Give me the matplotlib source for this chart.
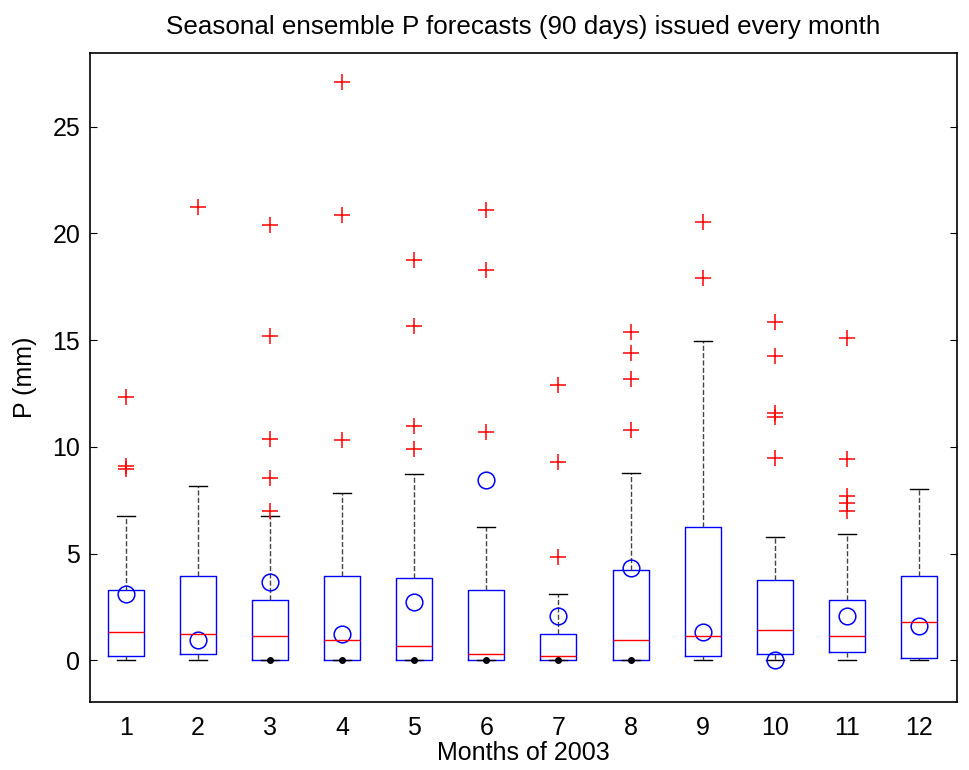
import numpy as np
import matplotlib
matplotlib.use("Agg")
import matplotlib.pyplot as plt

plt.rcParams["font.family"] = ["Liberation Sans", "DejaVu Sans"]

months = list(range(1, 13))
# box statistics (mm)
q1 = [0.19, 0.28, 0.0, 0.0, 0.0, 0.0, 0.0, 0.0, 0.19, 0.28, 0.37, 0.09]
med = [1.31, 1.22, 1.12, 0.94, 0.66, 0.28, 0.19, 0.94, 1.12, 1.40, 1.12, 1.78]
q3 = [3.28, 3.93, 2.81, 3.93, 3.84, 3.28, 1.22, 4.21, 6.27, 3.75, 2.81, 3.93]
whi = [6.74, 8.15, 6.74, 7.86, 8.71, 6.27, 3.09, 8.80, 14.98, 5.80, 5.90, 8.05]
wlo = [0.0] * 12
outliers = [
    [12.35, 9.1, 8.95],
    [21.25],
    [20.4, 15.2, 10.35, 8.52, 6.98],
    [27.1, 20.85, 10.3],
    [18.77, 15.68, 11.0, 9.88],
    [21.1, 18.3, 10.72],
    [12.9, 9.27, 4.82],
    [15.4, 14.4, 13.2, 10.8],
    [20.55, 17.93],
    [15.87, 14.28, 11.6, 11.42, 9.5],
    [15.1, 9.41, 7.72, 7.35, 6.98],
    [],
]
# blue circles (one value per month)
circles = [3.09, 0.94, 3.65, 1.22, 2.72, 8.43, 2.06, 4.31, 1.31, 0.0, 2.06, 1.59]
# black dots at zero
dot_months = [3, 4, 5, 6, 7, 8]
dot_vals = [0.0, 0.0, 0.0, 0.0, 0.0, 0.0]

stats = []
for i in range(12):
    stats.append(dict(med=med[i], q1=q1[i], q3=q3[i], whislo=wlo[i],
                      whishi=whi[i], fliers=outliers[i]))

fig = plt.figure(figsize=(9.69, 7.7), dpi=100)
ax = fig.add_axes([90 / 969, 1 - 702 / 770, 867 / 969, 649 / 770])

ax.bxp(stats, positions=months, widths=0.5, showfliers=True,
       boxprops=dict(color="blue", lw=1),
       medianprops=dict(color="red", lw=1),
       whiskerprops=dict(color="#444444", lw=1, ls="--"),
       capprops=dict(color="black", lw=1),
       capwidths=0.25,
       flierprops=dict(marker="+", markeredgecolor="red", markersize=11,
                       markeredgewidth=1.1, ls="none"))

ax.plot(months, circles, "o", mfc="none", mec="blue", ms=12, mew=1.1)
ax.plot(dot_months, dot_vals, ".", color="black", ms=8)

ax.set_xlim(0.5, 12.53)
ax.set_ylim(-1.95, 28.45)
ax.set_xticks(months)
ax.set_xticklabels([str(m) for m in months])
ax.set_yticks([0, 5, 10, 15, 20, 25])
ax.tick_params(axis="y", direction="in", length=5, right=True, labelsize=18, pad=7)
ax.tick_params(axis="x", length=0, labelsize=18, pad=10)
for s in ax.spines.values():
    s.set_linewidth(1.2)

ax.set_title("Seasonal ensemble P forecasts (90 days) issued every month",
             fontsize=18.7, pad=14)
ax.set_xlabel("Months of 2003", fontsize=18, labelpad=1)
ax.set_ylabel("P (mm)", fontsize=18, labelpad=11)

fig.savefig("out.png", dpi=100)
